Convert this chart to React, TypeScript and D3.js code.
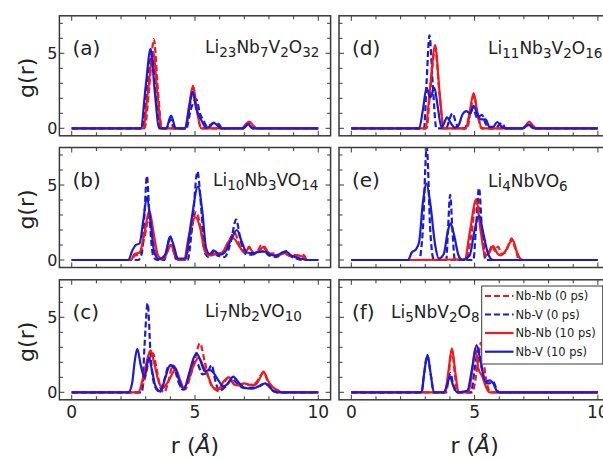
import React from "react";
import * as d3 from "d3";

type P = [number, number];

// ---------- data: g(r) curves, [r (Å), g(r)] ----------
// (a) Li23Nb7V2O32
const a_NbNb0: P[] = [[0,0],[2.95,0],[3.15,2.8],[3.33,5.95],[3.5,2.5],[3.65,0],[4.6,0],[4.8,1.6],[4.93,2.7],[5.08,1.2],[5.25,0],[6.95,0],[7.12,0.25],[7.25,0.4],[7.4,0.1],[7.5,0],[10,0]];
const a_NbV0: P[] = [[0,0],[2.85,0],[3.05,2.6],[3.25,5.0],[3.42,2.2],[3.6,0],[3.85,0],[4.0,0.6],[4.15,0],[4.65,0],[4.82,1.2],[5.05,1.95],[5.2,1.0],[5.35,0.5],[5.5,0.1],[5.75,0.35],[5.95,0.3],[6.1,0],[6.95,0],[7.15,0.25],[7.35,0],[10,0]];
const a_NbNb10: P[] = [[0,0],[2.9,0],[3.1,2.6],[3.3,5.1],[3.48,2.2],[3.65,0],[4.6,0],[4.75,1.4],[4.92,2.85],[5.07,1.3],[5.25,0],[6.9,0],[7.05,0.25],[7.2,0.45],[7.35,0.2],[7.5,0],[10,0]];
const a_NbV10: P[] = [[0,0],[2.8,0],[3.0,2.8],[3.2,5.3],[3.37,2.4],[3.55,0],[3.83,0],[4.03,0.85],[4.22,0],[4.6,0],[4.75,1.2],[4.9,2.45],[5.05,1.3],[5.27,0.5],[5.45,0.05],[5.6,0.1],[5.75,0.38],[5.9,0.2],[6.05,0],[6.95,0],[7.15,0.28],[7.35,0],[10,0]];

// (b) Li10Nb3VO14
const b_NbNb0: P[] = [[0,0],[2.45,0],[2.55,0.3],[2.75,0.35],[2.95,1.5],[3.15,2.9],[3.3,1.8],[3.5,0.2],[3.7,0],[3.85,0.5],[4.0,1.0],[4.15,0.5],[4.3,0],[4.6,0],[4.8,1.5],[5.05,3.2],[5.2,2.4],[5.4,0.6],[5.6,0.35],[5.85,0.45],[6.1,0.4],[6.35,1.2],[6.6,1.8],[6.85,0.8],[7.05,0.5],[7.2,0.9],[7.35,0.4],[7.5,0.5],[7.7,1.0],[7.85,0.7],[8.0,0.4],[8.2,0.45],[8.4,0.35],[8.6,0.5],[8.8,0.3],[9.0,0.35],[9.2,0.3],[9.4,0.35],[9.55,0],[10,0]];
const b_NbV0: P[] = [[0,0],[2.7,0],[2.85,0.5],[2.95,3.0],[3.05,5.6],[3.15,3.0],[3.3,0.3],[3.45,0],[3.75,0],[3.9,1.0],[4.0,1.6],[4.12,0.8],[4.25,0],[4.7,0],[4.9,2.5],[5.1,5.9],[5.25,3.5],[5.4,0.5],[5.55,0.2],[5.75,0.65],[5.9,0.3],[6.2,0.2],[6.45,1.2],[6.67,2.7],[6.85,1.3],[7.05,0.4],[7.3,0.35],[7.55,0.5],[7.8,0.6],[8.0,0.3],[8.3,0.2],[8.55,0.5],[8.7,0.6],[8.85,0.3],[9.1,0.1],[9.4,0],[10,0]];
const b_NbNb10: P[] = [[0,0],[2.4,0],[2.55,0.4],[2.75,0.5],[2.95,1.8],[3.15,3.3],[3.3,2.0],[3.5,0.3],[3.7,0.05],[3.87,0.5],[4.02,1.0],[4.18,0.4],[4.35,0],[4.55,0],[4.75,1.6],[5.02,2.85],[5.2,2.2],[5.4,0.6],[5.6,0.3],[5.85,0.4],[6.1,0.5],[6.35,1.2],[6.55,1.45],[6.8,0.9],[7.0,0.5],[7.2,0.8],[7.4,0.45],[7.6,0.6],[7.8,0.9],[7.95,0.55],[8.2,0.3],[8.45,0.35],[8.65,0.45],[8.85,0.25],[9.1,0.3],[9.35,0.25],[9.5,0],[10,0]];
const b_NbV10: P[] = [[0,0],[2.3,0],[2.45,0.6],[2.6,1.0],[2.75,1.1],[2.9,2.6],[3.05,4.2],[3.2,2.5],[3.35,0.5],[3.55,0.05],[3.8,0.4],[3.98,1.55],[4.15,0.9],[4.3,0.1],[4.6,0.1],[4.85,2.6],[5.12,4.9],[5.3,3.2],[5.45,0.8],[5.6,0.4],[5.8,0.6],[6.0,0.35],[6.2,0.5],[6.45,1.3],[6.7,2.0],[6.9,1.2],[7.1,0.5],[7.35,0.45],[7.6,0.55],[7.85,0.55],[8.05,0.35],[8.3,0.3],[8.55,0.5],[8.7,0.55],[8.9,0.3],[9.15,0.15],[9.4,0.05],[9.6,0],[10,0]];

// (c) Li7Nb2VO10
const c_NbNb0: P[] = [[0,0],[2.75,0],[2.95,0.8],[3.15,2.2],[3.3,2.6],[3.45,1.5],[3.6,0.3],[3.75,0],[3.9,0.6],[4.1,1.8],[4.3,1.2],[4.45,0.2],[4.6,0.2],[4.8,1.0],[5.0,2.2],[5.2,3.27],[5.4,2.0],[5.6,0.7],[5.8,0.2],[6.0,0.05],[6.15,0.5],[6.35,1.0],[6.55,0.6],[6.75,0.5],[7.0,0.6],[7.2,0.5],[7.45,0.6],[7.65,1.1],[7.8,1.35],[7.95,0.7],[8.15,0.3],[8.35,0.1],[8.5,0],[10,0]];
const c_NbV0: P[] = [[0,0],[2.85,0],[2.95,3.0],[3.08,5.93],[3.2,2.5],[3.35,0.5],[3.55,0.05],[3.75,0.8],[3.95,1.8],[4.15,1.6],[4.35,0.6],[4.5,0.2],[4.7,0.8],[4.95,2.0],[5.1,1.9],[5.3,1.2],[5.5,1.3],[5.67,1.82],[5.85,0.6],[6.0,0.1],[6.25,0.4],[6.5,0.9],[6.7,0.6],[6.95,0.3],[7.2,0.3],[7.5,0.35],[7.8,0.55],[8.0,0.45],[8.15,0.15],[8.3,0],[10,0]];
const c_NbNb10: P[] = [[0,0],[2.7,0],[2.9,1.0],[3.08,2.3],[3.2,2.8],[3.35,1.9],[3.55,0.6],[3.7,0.3],[3.9,0.7],[4.1,1.3],[4.2,1.6],[4.4,0.8],[4.55,0.3],[4.75,0.9],[4.95,1.8],[5.15,2.3],[5.35,1.7],[5.55,1.0],[5.75,0.3],[5.95,0.2],[6.15,0.7],[6.4,1.0],[6.6,0.5],[6.8,0.45],[7.0,0.6],[7.2,0.5],[7.45,0.5],[7.65,1.0],[7.78,1.38],[7.95,0.8],[8.15,0.35],[8.35,0.15],[8.5,0],[10,0]];
const c_NbV10: P[] = [[0,0],[2.3,0],[2.45,0.6],[2.55,2.0],[2.66,2.89],[2.8,1.8],[2.95,1.0],[3.13,2.3],[3.25,1.5],[3.4,0.4],[3.6,0.05],[3.8,1.0],[4.0,1.82],[4.2,1.6],[4.4,0.6],[4.55,0.2],[4.75,1.2],[4.95,2.3],[5.06,2.6],[5.2,2.2],[5.4,1.4],[5.6,1.5],[5.75,1.3],[5.95,0.8],[6.15,0.4],[6.35,0.6],[6.55,1.05],[6.75,0.7],[7.0,0.3],[7.3,0.25],[7.6,0.4],[7.85,0.6],[8.05,0.3],[8.2,0.05],[8.35,0],[10,0]];

// (d) Li11Nb3V2O16
const d_NbNb0: P[] = [[0,0],[3.05,0],[3.2,2.5],[3.4,5.3],[3.58,2.2],[3.75,0],[4.7,0],[4.82,1.0],[4.97,2.2],[5.12,0.9],[5.28,0],[6.95,0],[7.1,0.2],[7.22,0.38],[7.35,0.2],[7.5,0],[10,0]];
const d_NbV0: P[] = [[0,0],[2.95,0],[3.05,3.0],[3.17,6.2],[3.3,3.0],[3.45,0],[3.85,0],[3.98,0.6],[4.1,1.0],[4.22,0.5],[4.35,0],[4.6,0],[4.75,0.6],[4.95,1.3],[5.1,0.7],[5.3,0.9],[5.45,0.3],[5.6,0],[5.85,0],[6.0,0.25],[6.12,0.35],[6.25,0],[6.95,0],[7.2,0.22],[7.4,0],[10,0]];
const d_NbNb10: P[] = [[0,0],[3.0,0],[3.2,2.8],[3.4,5.55],[3.58,2.4],[3.75,0],[4.65,0],[4.8,1.1],[4.96,2.35],[5.12,1.0],[5.3,0],[6.95,0],[7.08,0.2],[7.21,0.45],[7.35,0.2],[7.5,0],[10,0]];
const d_NbV10: P[] = [[0,0],[2.75,0],[2.9,1.2],[3.05,2.7],[3.2,2.05],[3.37,2.7],[3.5,1.5],[3.65,0.1],[3.75,0.3],[3.88,0.73],[4.05,0.3],[4.2,0.05],[4.35,0.2],[4.5,0.9],[4.67,1.15],[4.8,1.0],[4.96,1.5],[5.1,1.0],[5.25,0.6],[5.45,0.6],[5.6,0.1],[5.75,0.1],[5.92,0.42],[6.1,0.1],[6.25,0],[6.95,0],[7.2,0.25],[7.4,0],[10,0]];

// (e) Li4NbVO6
const e_NbNb0: P[] = [[0,0],[4.65,0],[4.85,1.5],[5.1,4.2],[5.3,1.8],[5.45,0.3],[5.6,0.6],[5.72,1.0],[5.82,0.6],[5.95,0.9],[6.1,0.4],[6.25,0.5],[6.4,1.1],[6.5,1.45],[6.6,1.0],[6.7,0.5],[6.8,0],[10,0]];
const e_NbV0: P[] = [[0,0],[2.75,0],[2.9,2.0],[3.06,7.55],[3.2,2.0],[3.35,0],[3.85,0],[3.92,2.0],[4.01,4.35],[4.1,2.0],[4.2,0],[4.95,0],[5.05,2.0],[5.18,4.8],[5.3,2.0],[5.45,0],[10,0]];
const e_NbNb10: P[] = [[0,0],[2.5,0],[4.6,0.05],[4.8,1.8],[5.06,4.0],[5.25,1.9],[5.42,0.3],[5.6,0.5],[5.75,0.93],[5.9,0.5],[6.05,0.3],[6.25,0.6],[6.45,1.2],[6.55,1.33],[6.7,0.6],[6.85,0.1],[7.0,0],[10,0]];
const e_NbV10: P[] = [[0,0],[2.3,0],[2.45,0.5],[2.62,0.7],[2.75,1.2],[2.9,3.8],[3.05,5.1],[3.2,3.8],[3.4,1.0],[3.55,0.1],[3.75,0.4],[3.9,1.8],[4.02,2.45],[4.15,1.8],[4.35,0.3],[4.5,0],[4.8,0.3],[5.0,2.0],[5.18,2.95],[5.35,1.8],[5.55,0.4],[5.75,0],[10,0]];

// (f) Li5NbV2O8
const f_NbNb0: P[] = [[0,0],[3.85,0],[3.95,1.2],[4.08,2.8],[4.2,1.2],[4.3,0],[4.9,0],[5.05,1.0],[5.15,2.2],[5.25,3.3],[5.35,2.2],[5.5,0.6],[5.65,0],[10,0]];
const f_NbV0: P[] = [[0,0],[2.85,0],[2.95,1.2],[3.08,2.45],[3.22,1.2],[3.35,0],[3.8,0],[3.92,0.7],[4.02,1.3],[4.12,0.6],[4.25,0],[4.85,0],[5.0,1.5],[5.15,2.8],[5.3,1.5],[5.45,0.6],[5.6,0.6],[5.75,0.7],[5.9,0.2],[6.0,0],[10,0]];
const f_NbNb10: P[] = [[0,0],[3.8,0],[3.93,1.3],[4.08,2.93],[4.22,1.3],[4.35,0],[4.75,0],[4.9,1.4],[5.03,2.93],[5.15,1.6],[5.3,1.1],[5.45,0.4],[5.6,0],[10,0]];
const f_NbV10: P[] = [[0,0],[2.85,0],[2.95,1.2],[3.09,2.5],[3.22,1.2],[3.35,0],[3.75,0],[3.9,0.6],[4.0,1.05],[4.12,0.5],[4.3,0],[4.7,0.1],[4.9,1.6],[5.08,3.15],[5.25,2.0],[5.45,0.7],[5.62,0.8],[5.75,0.6],[5.95,0],[10,0]];

// ---------- labels ----------
const panelLabels = ["(a)", "(b)", "(c)", "(d)", "(e)", "(f)"];
// formula pieces: [text, isSubscript]
const formulas: [string, boolean][][] = [
  [["Li", false], ["23", true], ["Nb", false], ["7", true], ["V", false], ["2", true], ["O", false], ["32", true]],
  [["Li", false], ["10", true], ["Nb", false], ["3", true], ["VO", false], ["14", true]],
  [["Li", false], ["7", true], ["Nb", false], ["2", true], ["VO", false], ["10", true]],
  [["Li", false], ["11", true], ["Nb", false], ["3", true], ["V", false], ["2", true], ["O", false], ["16", true]],
  [["Li", false], ["4", true], ["NbVO", false], ["6", true]],
  [["Li", false], ["5", true], ["NbV", false], ["2", true], ["O", false], ["8", true]],
];
const seriesNames = ["Nb-Nb (0 ps)", "Nb-V (0 ps)", "Nb-Nb (10 ps)", "Nb-V (10 ps)"];
const seriesColors = ["#f01a1a", "#1a1ad8", "#f01a1a", "#1a1ad8"];
const seriesDashed = [true, true, false, false];
const xTicks = [0, 5, 10];
const yTicks = [0, 5];

const curves: P[][][] = [
  [a_NbNb0, a_NbV0, a_NbNb10, a_NbV10],
  [b_NbNb0, b_NbV0, b_NbNb10, b_NbV10],
  [c_NbNb0, c_NbV0, c_NbNb10, c_NbV10],
  [d_NbNb0, d_NbV0, d_NbNb10, d_NbV10],
  [e_NbNb0, e_NbV0, e_NbNb10, e_NbV10],
  [f_NbNb0, f_NbV0, f_NbNb10, f_NbV10],
];

// ---------- layout ----------
const W = 603, H = 459;
const FONT = "DejaVu Sans, Verdana, sans-serif";
const colL = [59.4, 339];
const colW = 271.2;
const rowY0 = [128.3, 260, 392.3];
const formulaPos: [number, number][] = [[205, 53], [213, 186], [205, 317], [488, 53.5], [488, 186.5], [391, 318]];
const AX = "#3a3a3a";

function Panel({ idx }: { idx: number }) {
  const col = idx < 3 ? 0 : 1;
  const row = idx % 3;
  const x = d3.scaleLinear().domain([-0.5, 10.5]).range([colL[col], colL[col] + colW]);
  const y0 = rowY0[row];
  const y = d3.scaleLinear().domain([-0.5, 7.5]).range([y0 + 7.5, y0 - 112.5]);
  const [x0, x1] = x.range();
  const [yb, yt] = y.range();
  const line = d3.line<P>().x(d => x(d[0])).y(d => y(d[1])).curve(d3.curveMonotoneX);
  const clipId = `clip${idx}`;
  const minorX = d3.range(0, 11, 1);
  const minorY = d3.range(0, 8, 1);
  const [fx, fy] = formulaPos[idx];
  return (
    <g>
      <defs>
        <clipPath id={clipId}>
          <rect x={x0} y={yt} width={x1 - x0} height={yb - yt} />
        </clipPath>
      </defs>
      <g clipPath={`url(#${clipId})`}>
        {curves[idx].map((c, i) => (
          <path key={i} d={line(c) || ""} fill="none" stroke={seriesColors[i]} strokeWidth={2.2}
            strokeDasharray={seriesDashed[i] ? "6,3" : undefined} strokeLinejoin="round" />
        ))}
      </g>
      {minorX.map(t => {
        const len = t % 5 === 0 ? 5 : 3.5;
        return (
          <g key={"x" + t}>
            <line x1={x(t)} x2={x(t)} y1={yb} y2={yb - len} stroke={AX} strokeWidth={1} />
            <line x1={x(t)} x2={x(t)} y1={yt} y2={yt + len} stroke={AX} strokeWidth={1} />
          </g>
        );
      })}
      {minorY.map(t => {
        const len = t % 5 === 0 ? 5 : 3.5;
        return (
          <g key={"y" + t}>
            <line x1={x0} x2={x0 + len} y1={y(t)} y2={y(t)} stroke={AX} strokeWidth={1} />
            <line x1={x1} x2={x1 - len} y1={y(t)} y2={y(t)} stroke={AX} strokeWidth={1} />
          </g>
        );
      })}
      <rect x={x0} y={yt} width={x1 - x0} height={yb - yt} fill="none" stroke={AX} strokeWidth={1.5} />
      {col === 0 && yTicks.map(t => (
        <text key={"yl" + t} x={x0 - 2} y={y(t)} textAnchor="end" dominantBaseline="central"
          fontSize={16} fill="#222" fontFamily={FONT}>{t}</text>
      ))}
      {row === 2 && xTicks.map(t => (
        <text key={"xl" + t} x={x(t)} y={yb + 18.5} textAnchor="middle"
          fontSize={17} fill="#222" fontFamily={FONT}>{t}</text>
      ))}
      <text x={x0 + 13} y={yt + 39} fontSize={20} fill="#222" fontFamily={FONT}>{panelLabels[idx]}</text>
      <text x={fx} y={fy} fontSize={17} fill="#222" fontFamily={FONT}>
        {formulas[idx].map(([s, sub], i) => {
          const prevSub = i > 0 && formulas[idx][i - 1][1];
          const dy = sub ? 4 : prevSub ? -4 : 0;
          return (
            <tspan key={i} dy={dy} fontSize={sub ? 13.5 : 17}>{s}</tspan>
          );
        })}
      </text>
      {col === 0 && (
        <text transform={`translate(33.5,${(yt + yb) / 2 + 2}) rotate(-90)`} textAnchor="middle"
          fontSize={22} fill="#222" fontFamily={FONT}>g(r)</text>
      )}
      {row === 2 && (
        <text x={(x0 + x1) / 2} y={453} textAnchor="middle" fontSize={22} fill="#222" fontFamily={FONT}>
          r (<tspan fontStyle="italic">Å</tspan>)
        </text>
      )}
    </g>
  );
}

function Legend() {
  const lx = 481.7, ly = 286, lw = 121, lh = 78;
  const rows = [296, 314.5, 333, 351.7];
  return (
    <g>
      <rect x={lx} y={ly} width={lw} height={lh} fill="#fff" stroke={AX} strokeWidth={1} />
      {seriesNames.map((n, i) => (
        <g key={n}>
          <line x1={485} x2={513.5} y1={rows[i]} y2={rows[i]} stroke={seriesColors[i]} strokeWidth={2.2}
            strokeDasharray={seriesDashed[i] ? "6,3" : undefined} />
          <text x={515.5} y={rows[i]} dominantBaseline="central" fontSize={11.5} fill="#222" fontFamily={FONT}>{n}</text>
        </g>
      ))}
    </g>
  );
}

export default function App() {
  return (
    <svg width={W} height={H} style={{ position: "absolute", left: 0, top: 0, background: "#fff" }}>
      <rect width={W} height={H} fill="#fff" />
      {[0, 1, 2, 3, 4, 5].map(i => <Panel key={i} idx={i} />)}
      <Legend />
    </svg>
  );
}
